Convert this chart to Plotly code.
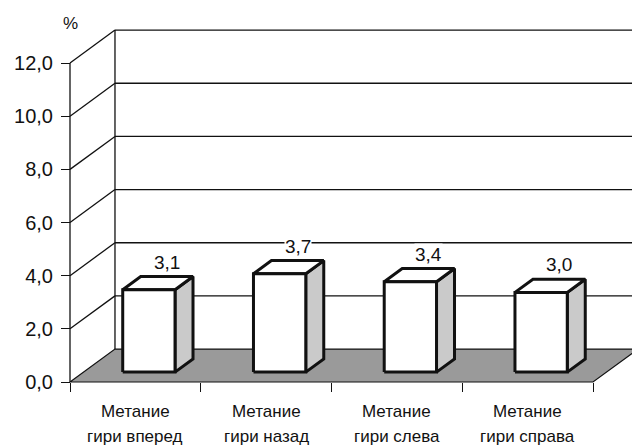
import plotly.graph_objects as go

# Data
categories = [("Метание", "гири вперед"), ("Метание", "гири назад"),
              ("Метание", "гири слева"), ("Метание", "гири справа")]
values = [3.1, 3.7, 3.4, 3.0]
y_ticks = [0, 2, 4, 6, 8, 10, 12]
y_unit = "%"

# Pseudo-3D projection: how far the back plane is shifted (in data units)
DX = 0.344     # horizontal shift of the back wall, in category units
DY = 1.24      # vertical shift of the back wall, in value units
BAR_W = 0.40   # bar width as a fraction of a category slot
Z0, Z1 = 0.30, 0.70  # bar front/back depth as a fraction of the floor depth

n = len(categories)
x_lo, x_hi = -0.5, n - 0.5
y_top = max(y_ticks)

FONT = "Liberation Sans, Arial, sans-serif"
EDGE = "#111111"

fig = go.Figure()


def poly(xs, ys, fill, lw, color=EDGE):
    fig.add_trace(go.Scatter(
        x=list(xs) + [xs[0]], y=list(ys) + [ys[0]], mode="lines",
        fill="toself", fillcolor=fill,
        line=dict(color=color, width=lw), hoverinfo="skip", showlegend=False))


def seg(x0, y0, x1, y1, lw=1.3, color=EDGE):
    fig.add_trace(go.Scatter(
        x=[x0, x1], y=[y0, y1], mode="lines",
        line=dict(color=color, width=lw), hoverinfo="skip", showlegend=False))


# Back wall gridlines and side-wall diagonals
for v in y_ticks[1:]:
    seg(x_lo + DX, v + DY, x_hi + DX + 0.2, v + DY)
    seg(x_lo, v, x_lo + DX, v + DY)
# back wall edge
seg(x_lo + DX, DY, x_lo + DX, y_top + DY)
# front value axis line
seg(x_lo, 0, x_lo, y_top)

# Floor
poly([x_lo, x_hi, x_hi + DX, x_lo + DX], [0, 0, DY, DY], "#9a9a9a", 1.2)

# Bars (side face, top face, front face)
for i, h in enumerate(values):
    xl = i - BAR_W / 2 + Z0 * DX
    xr = i + BAR_W / 2 + Z0 * DX
    y0 = Z0 * DY
    y1 = h + Z0 * DY
    ddx = (Z1 - Z0) * DX
    ddy = (Z1 - Z0) * DY
    poly([xr, xr + ddx, xr + ddx, xr], [y0, y0 + ddy, y1 + ddy, y1], "#cacaca", 3)
    poly([xl, xr, xr + ddx, xl + ddx], [y1, y1, y1 + ddy, y1 + ddy], "#ffffff", 3)
    poly([xl, xr, xr, xl], [y0, y0, y1, y1], "#ffffff", 3)
    fig.add_annotation(
        x=i + Z1 * DX, y=h + Z1 * DY, xref="x", yref="y",
        text=f"{h:.1f}".replace(".", ","), showarrow=False,
        yanchor="bottom", yshift=3, bgcolor="#ffffff", borderpad=0,
        font=dict(family=FONT, size=19, color="#111111"))

# Category labels, two lines each
for i, (line1, line2) in enumerate(categories):
    for text, shift in ((line1, -29), (line2, -54)):
        fig.add_annotation(
            x=i, y=0, xref="x", yref="y", text=text, showarrow=False,
            yanchor="middle", yshift=shift,
            font=dict(family=FONT, size=17, color="#111111"))

# Unit label above the value axis
fig.add_annotation(
    x=x_lo, y=y_top, xref="x", yref="y", text=y_unit, showarrow=False,
    yanchor="middle", yshift=40,
    font=dict(family=FONT, size=17, color="#111111"))

W, H = 632, 448
x_range = [-1.0354, 3.7983]
y_range = [-2.483, 14.372]

fig.update_layout(
    width=W, height=H, margin=dict(l=0, r=0, t=0, b=0),
    paper_bgcolor="#ffffff", plot_bgcolor="#ffffff",
    separators=", ",
    showlegend=False,
    xaxis=dict(
        range=x_range, showgrid=False, zeroline=False, showline=False,
        tickvals=[x_lo + k for k in range(n + 1)], showticklabels=False,
        ticks="outside", ticklen=9, tickwidth=1.3, tickcolor=EDGE,
        anchor="free", position=(0 - y_range[0]) / (y_range[1] - y_range[0]),
        fixedrange=True),
    yaxis=dict(
        range=y_range, showgrid=False, zeroline=False, showline=False,
        tickvals=y_ticks, tickformat=".1f",
        ticks="outside", ticklen=9, tickwidth=1.3, tickcolor=EDGE,
        ticklabelstandoff=4,
        tickfont=dict(family=FONT, size=20, color="#111111"),
        anchor="free", position=(x_lo - x_range[0]) / (x_range[1] - x_range[0]),
        fixedrange=True),
)

fig.write_html("out.html")
